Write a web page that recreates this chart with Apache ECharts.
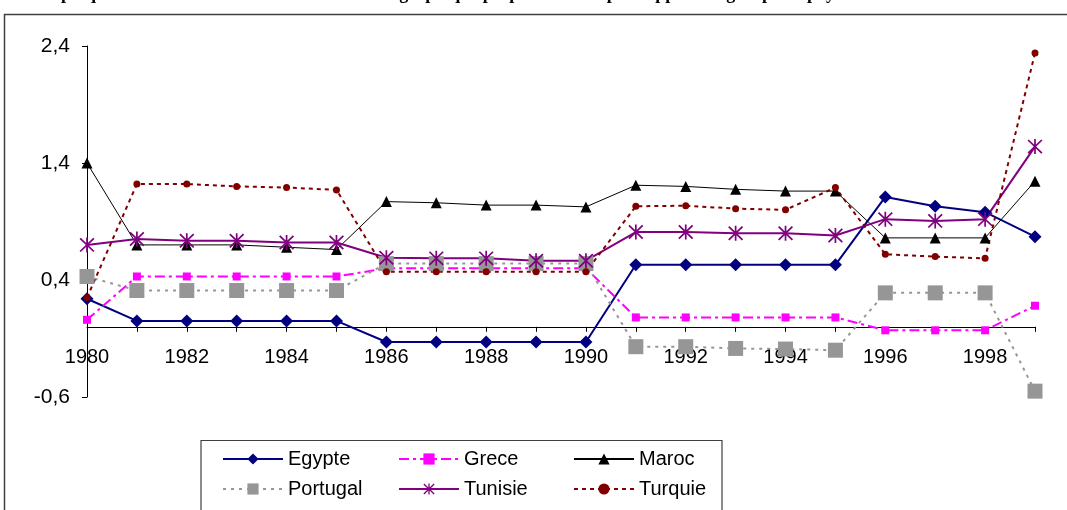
<!DOCTYPE html>
<html>
<head>
<meta charset="utf-8">
<script src="https://cdn.jsdelivr.net/npm/echarts@6/dist/echarts.min.js"></script>
<style>
  html, body { margin: 0; padding: 0; background: #fff; }
  #chart { width: 1067px; height: 510px; }
</style>
</head>
<body>
<div id="chart"></div>
<script>
// years on the x axis
var years = ['1980', '1981', '1982', '1983', '1984', '1985', '1986', '1987', '1988', '1989',
             '1990', '1991', '1992', '1993', '1994', '1995', '1996', '1997', '1998', '1999'];

// values
var egypte   = [0.24, 0.05, 0.05, 0.05, 0.05, 0.05, -0.13, -0.13, -0.13, -0.13, -0.13, 0.53, 0.53, 0.53, 0.53, 0.53, 1.11, 1.03, 0.98, 0.77];
var grece    = [0.06, 0.43, 0.43, 0.43, 0.43, 0.43, 0.50, 0.50, 0.50, 0.50, 0.50, 0.08, 0.08, 0.08, 0.08, 0.08, -0.03, -0.03, -0.03, 0.18];
var maroc    = [1.40, 0.70, 0.70, 0.70, 0.68, 0.66, 1.07, 1.06, 1.04, 1.04, 1.025, 1.21, 1.20, 1.175, 1.16, 1.16, 0.76, 0.76, 0.76, 1.245];
var portugal = [0.43, 0.31, 0.31, 0.31, 0.31, 0.31, 0.54, 0.54, 0.54, 0.54, 0.54, -0.17, -0.17, -0.185, -0.19, -0.20, 0.29, 0.29, 0.29, -0.55];
var tunisie  = [0.70, 0.75, 0.735, 0.735, 0.72, 0.72, 0.59, 0.585, 0.585, 0.565, 0.565, 0.81, 0.81, 0.80, 0.80, 0.78, 0.92, 0.905, 0.92, 1.54];
var turquie  = [0.25, 1.22, 1.22, 1.20, 1.19, 1.17, 0.47, 0.47, 0.47, 0.47, 0.47, 1.03, 1.035, 1.01, 1.0, 1.19, 0.62, 0.60, 0.585, 2.34];

var yMin = -0.6, yMax = 2.4, yStep = 1;

var titleText = 'Graphique : Écarts des taux de croissance démographique proportionnelle par rapport au groupe de pays';

// asterisk marker (vertical bar + two diagonals)
var asterisk = 'path://M8.9 0L11.1 0L11.1 20L8.9 20Z M0.4 2L2 0.4L19.6 18L18 19.6Z M18 0.4L19.6 2L2 19.6L0.4 18Z';

var chart = echarts.init(document.getElementById('chart'));

var font = 'Liberation Sans, Arial, sans-serif';

function legendAt(left, names) {
    return {
        orient: 'vertical',
        left: left,
        top: 449,
        padding: 0,
        itemWidth: 60,
        itemHeight: 14,
        itemGap: 10,
        data: names,
        textStyle: { fontFamily: font, fontSize: 20, color: '#000', padding: [0, 0, 0, 0] }
    };
}

chart.setOption({
    animation: false,
    backgroundColor: '#fff',
    title: {
        text: titleText,
        left: 30,
        top: -15,
        padding: 0,
        textStyle: { fontFamily: 'Liberation Serif, Times New Roman, serif', fontWeight: 'bold', fontSize: 18, color: '#000' }
    },
    graphic: [{
        type: 'rect',
        shape: { x: 4.5, y: 14.5, width: 1100, height: 600 },
        style: { fill: null, stroke: '#404040', lineWidth: 1.5 },
        silent: true
    }, {
        type: 'rect',
        shape: { x: 201, y: 440.5, width: 521, height: 100 },
        style: { fill: '#fff', stroke: '#404040', lineWidth: 1.2 },
        silent: true
    }],
    legend: [
        legendAt(222, ['Egypte', 'Portugal']),
        legendAt(398, ['Grece', 'Tunisie']),
        legendAt(573, ['Maroc', 'Turquie'])
    ],
    grid: { left: 87, right: 32, top: 46, bottom: 113 },
    xAxis: {
        type: 'category',
        data: years,
        boundaryGap: false,
        z: 0,
        axisLine: { onZero: true, lineStyle: { color: '#000', width: 1 } },
        axisTick: { show: true, interval: 0, length: 5, lineStyle: { color: '#000' } },
        axisLabel: { interval: 1, margin: -50, fontFamily: font, fontSize: 20, color: '#000' },
        splitLine: { show: false }
    },
    yAxis: {
        type: 'value',
        min: yMin,
        max: yMax,
        interval: yStep,
        z: 0,
        axisLine: { show: true, lineStyle: { color: '#000', width: 1 } },
        axisTick: { show: true, length: 5, lineStyle: { color: '#000' } },
        axisLabel: {
            margin: 17, fontFamily: font, fontSize: 21, color: '#000',
            formatter: function (v) { return v.toFixed(1).replace('.', ','); }
        },
        splitLine: { show: false }
    },
    series: [
        {
            name: 'Egypte', type: 'line', data: egypte, z: 3,
            symbol: 'diamond', symbolSize: 13,
            lineStyle: { color: '#000080', width: 2 },
            itemStyle: { color: '#000080' }
        },
        {
            name: 'Grece', type: 'line', data: grece, z: 3,
            symbol: 'rect', symbolSize: 8,
            lineStyle: { color: '#ff00ff', width: 2, type: [10, 4, 3, 4] },
            itemStyle: { color: '#ff00ff' }
        },
        {
            name: 'Maroc', type: 'line', data: maroc, z: 3,
            symbol: 'triangle', symbolSize: 11,
            lineStyle: { color: '#000', width: 1 },
            itemStyle: { color: '#000' }
        },
        {
            name: 'Portugal', type: 'line', data: portugal, z: 3,
            symbol: 'rect', symbolSize: 15,
            lineStyle: { color: '#969696', width: 2, type: [3, 5] },
            itemStyle: { color: '#969696' }
        },
        {
            name: 'Tunisie', type: 'line', data: tunisie, z: 3,
            symbol: asterisk, symbolSize: 15,
            lineStyle: { color: '#800080', width: 2 },
            itemStyle: { color: '#800080' }
        },
        {
            name: 'Turquie', type: 'line', data: turquie, z: 3,
            symbol: 'circle', symbolSize: 7,
            lineStyle: { color: '#800000', width: 2, type: [4, 4] },
            itemStyle: { color: '#800000' }
        }
    ]
});
</script>
</body>
</html>
